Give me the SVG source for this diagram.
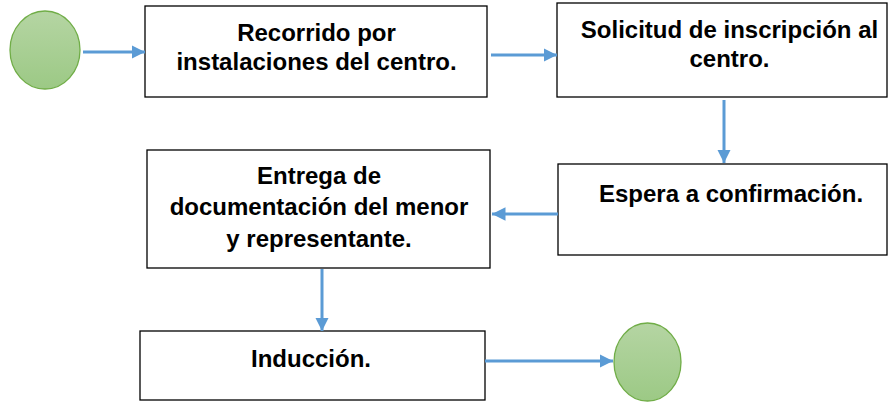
<svg xmlns="http://www.w3.org/2000/svg" width="889" height="405" viewBox="0 0 889 405">
<defs>
<linearGradient id="g" x1="0" y1="0" x2="0" y2="1">
<stop offset="0" stop-color="#b5d5a3"/>
<stop offset="1" stop-color="#9cc985"/>
</linearGradient>
<marker id="ah" viewBox="0 0 10 10" refX="10" refY="5" markerWidth="4.5" markerHeight="4.5" orient="auto" markerUnits="strokeWidth">
<path d="M0,0 L10,5 L0,10 z" fill="#5b9bd5"/>
</marker>
<style>
.box{fill:#fff;stroke:#000;stroke-width:1.3}
.circ{fill:url(#g);stroke:#70ad47;stroke-width:1.3}
.t{font-family:"Liberation Sans",Arial,sans-serif;font-weight:bold;font-size:24px;text-anchor:middle;fill:#000}
.c{stroke:#5b9bd5;stroke-width:3;fill:none;marker-end:url(#ah)}
</style>
</defs>
<rect width="889" height="405" fill="#fff"/>
<g id="start"><ellipse class="circ" cx="45" cy="50" rx="35" ry="39"/></g>
<g id="n1"><rect class="box" x="145" y="6" width="342" height="91"/>
<text class="t" x="316.5" y="41">Recorrido por</text>
<text class="t" x="316.5" y="70">instalaciones del centro.</text></g>
<g id="n2"><rect class="box" x="557" y="3" width="330" height="94"/>
<text class="t" x="729.5" y="38">Solicitud de inscripción al</text>
<text class="t" x="729.5" y="67">centro.</text></g>
<g id="n3"><rect class="box" x="558" y="164" width="329" height="91"/>
<text class="t" x="731" y="202">Espera a confirmación.</text></g>
<g id="n4"><rect class="box" x="147" y="150" width="343" height="118"/>
<text class="t" x="319" y="184">Entrega de</text>
<text class="t" x="319" y="215">documentación del menor</text>
<text class="t" x="319" y="247">y representante.</text></g>
<g id="n5"><rect class="box" x="140" y="331" width="345" height="69"/>
<text class="t" x="311" y="367">Inducción.</text></g>
<g id="end"><ellipse class="circ" cx="647.5" cy="362" rx="33.5" ry="39"/></g>
<g id="connectors">
<line class="c" x1="83" y1="52" x2="145" y2="52"/>
<line class="c" x1="491" y1="55" x2="557" y2="55"/>
<line class="c" x1="724" y1="100" x2="724" y2="163"/>
<line class="c" x1="558" y1="214" x2="492" y2="214"/>
<line class="c" x1="322" y1="269" x2="322" y2="331"/>
<line class="c" x1="485" y1="361" x2="613" y2="361"/>
</g>
</svg>
